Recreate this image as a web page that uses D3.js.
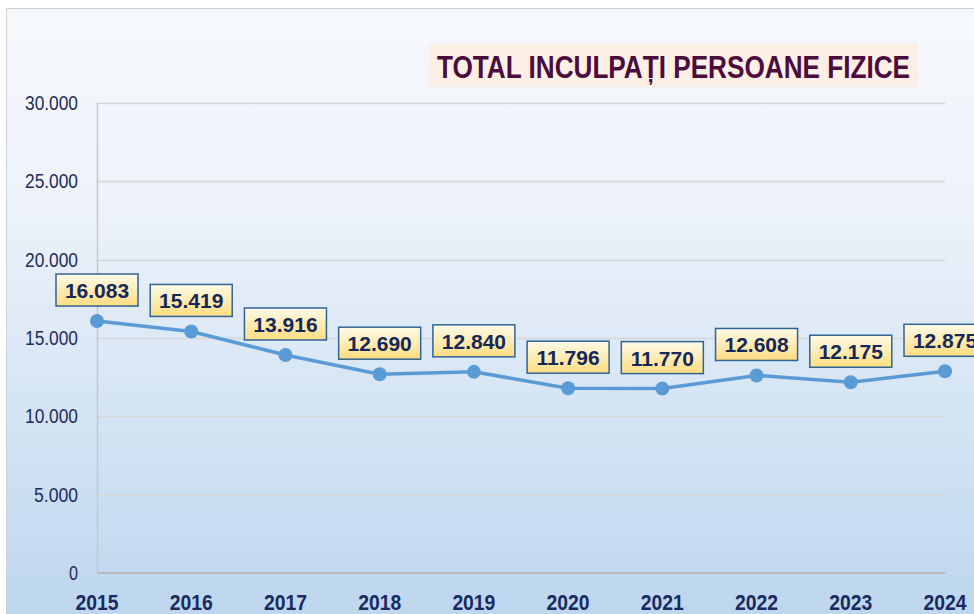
<!DOCTYPE html>
<html>
<head>
<meta charset="utf-8">
<script src="https://cdn.jsdelivr.net/npm/d3@7"></script>
<style>
  body { margin: 0; background: #fff; }
  svg { display: block; }
</style>
</head>
<body>
<svg width="974" height="614"></svg>
<script>
// data
const years = ["2015","2016","2017","2018","2019","2020","2021","2022","2023","2024"];
const totals = [16083, 15419, 13916, 12690, 12840, 11796, 11770, 12608, 12175, 12875];
const yTicks = [0, 5000, 10000, 15000, 20000, 25000, 30000];
const title = "TOTAL INCULPAȚI PERSOANE FIZICE";

const svg = d3.select("svg");
const width = +svg.attr("width");
const height = +svg.attr("height");
const margin = {left: 97, right: 29, top: 103, bottom: 41};

const fmt = d3.formatLocale({decimal: ",", thousands: ".", grouping: [3], currency: ["", ""]}).format(",d");

const defs = svg.append("defs");
const bg = defs.append("linearGradient").attr("id", "bg").attr("x1", 0).attr("y1", 0).attr("x2", 0).attr("y2", 1);
bg.append("stop").attr("offset", "0%").attr("stop-color", "#f6f9fc");
bg.append("stop").attr("offset", "30%").attr("stop-color", "#eef3fa");
bg.append("stop").attr("offset", "100%").attr("stop-color", "#bcd6ee");

const lab = defs.append("linearGradient").attr("id", "lab").attr("x1", 0).attr("y1", 0).attr("x2", 0).attr("y2", 1);
lab.append("stop").attr("offset", "0%").attr("stop-color", "#fffbe8");
lab.append("stop").attr("offset", "100%").attr("stop-color", "#ffdc80");

// panel
svg.append("rect")
  .attr("x", 6.5).attr("y", 8.5)
  .attr("width", width).attr("height", height)
  .attr("fill", "url(#bg)")
  .attr("stroke", "#d0d0d0");

const x = d3.scalePoint().domain(years).range([margin.left, width - margin.right]);
const y = d3.scaleLinear().domain([0, 30000]).range([height - margin.bottom, margin.top]);

// gridlines
svg.append("g")
  .selectAll("line")
  .data(yTicks.filter(d => d > 0))
  .enter()
  .append("line")
  .attr("x1", margin.left).attr("x2", width - margin.right)
  .attr("y1", d => Math.round(y(d)) + 0.5).attr("y2", d => Math.round(y(d)) + 0.5)
  .attr("stroke", "#d6d6d6").attr("stroke-width", 1.5);

// axes lines
svg.append("line")
  .attr("x1", margin.left + 0.5).attr("x2", margin.left + 0.5)
  .attr("y1", y(30000)).attr("y2", y(0))
  .attr("stroke", "#c8c8c8").attr("stroke-width", 1.5);
svg.append("line")
  .attr("x1", margin.left).attr("x2", width - margin.right)
  .attr("y1", y(0)).attr("y2", y(0))
  .attr("stroke", "#b8b8b8").attr("stroke-width", 2);

// y tick labels (narrow look)
svg.append("g")
  .selectAll("text")
  .data(yTicks)
  .enter()
  .append("text")
  .attr("x", 78).attr("y", d => y(d) + 7)
  .attr("text-anchor", "end")
  .attr("font-family", "'Liberation Sans', Arial, sans-serif")
  .attr("font-size", 20)
  .attr("fill", "#1f2d5c")
  .attr("textLength", d => fmt(d).length === 1 ? 9 : (fmt(d).length === 5 ? 44 : 53))
  .attr("lengthAdjust", "spacingAndGlyphs")
  .text(d => fmt(d));

// x tick labels
svg.append("g")
  .selectAll("text")
  .data(years)
  .enter()
  .append("text")
  .attr("x", d => x(d)).attr("y", 610)
  .attr("text-anchor", "middle")
  .attr("font-family", "'Liberation Sans', Arial, sans-serif")
  .attr("font-weight", "bold")
  .attr("font-size", 22)
  .attr("fill", "#1a2a5e")
  .attr("textLength", 43)
  .attr("lengthAdjust", "spacingAndGlyphs")
  .text(d => d);

// title
svg.append("rect")
  .attr("x", 429).attr("y", 43)
  .attr("width", 489).attr("height", 44)
  .attr("fill", "#fcefe6");
svg.append("text")
  .attr("x", 673.5).attr("y", 78)
  .attr("text-anchor", "middle")
  .attr("font-family", "'Liberation Sans', Arial, sans-serif")
  .attr("font-weight", "bold")
  .attr("font-size", 32)
  .attr("fill", "#4b0c3e")
  .attr("textLength", 473)
  .attr("lengthAdjust", "spacingAndGlyphs")
  .text(title);

// line
const line = d3.line()
  .x((d, i) => x(years[i]))
  .y(d => y(d));

svg.append("path")
  .datum(totals)
  .attr("d", line)
  .attr("fill", "none")
  .attr("stroke", "#5b9bd5")
  .attr("stroke-width", 3.5)
  .attr("stroke-linejoin", "round");

svg.append("g")
  .selectAll("circle")
  .data(totals)
  .enter()
  .append("circle")
  .attr("cx", (d, i) => x(years[i]))
  .attr("cy", d => y(d))
  .attr("r", 7)
  .attr("fill", "#5b9bd5");

// data labels
const labels = svg.append("g")
  .selectAll("g")
  .data(totals)
  .enter()
  .append("g")
  .attr("transform", (d, i) => `translate(${x(years[i])},${y(d) - 31})`);

labels.append("rect")
  .attr("x", -41).attr("y", -16)
  .attr("width", 82).attr("height", 32)
  .attr("fill", "url(#lab)")
  .attr("stroke", "#2f6496")
  .attr("stroke-width", 1.5);

labels.append("text")
  .attr("y", 8)
  .attr("text-anchor", "middle")
  .attr("font-family", "'Liberation Sans', Arial, sans-serif")
  .attr("font-weight", "bold")
  .attr("font-size", 21)
  .attr("fill", "#14285a")
  .text(d => fmt(d));
</script>
</body>
</html>
